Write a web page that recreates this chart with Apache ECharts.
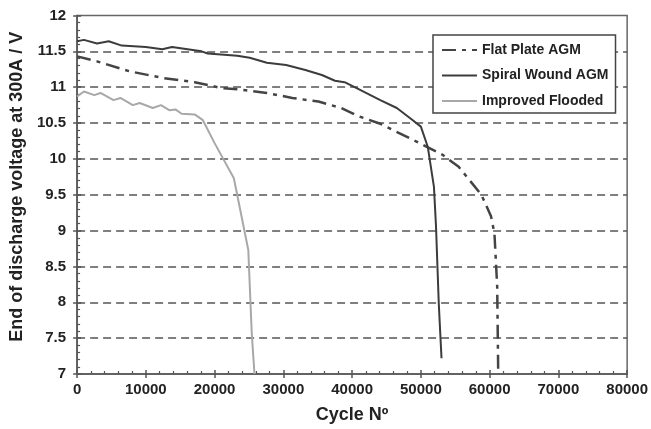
<!DOCTYPE html>
<html>
<head>
<meta charset="utf-8">
<script src="https://cdn.jsdelivr.net/npm/echarts@6/dist/echarts.min.js"></script>
<style>
html,body{margin:0;padding:0;background:#fff;}
#chart{width:651px;height:429px;}
</style>
</head>
<body>
<div id="chart"></div>
<script>
// ---- data ----
const xTicks = [0, 10000, 20000, 30000, 40000, 50000, 60000, 70000, 80000];
const yTicks = [7, 7.5, 8, 8.5, 9, 9.5, 10, 10.5, 11, 11.5, 12];
const seriesNames = ['Flat Plate AGM', 'Spiral Wound AGM', 'Improved Flooded'];

const flatX = [0, 2900, 7700, 12400, 17100, 20900, 23300, 27600, 31300, 35100, 38400, 40800, 44100, 49800, 53100, 55500, 58800, 60200, 60700, 61100, 61250];
const flatY = [11.43, 11.36, 11.22, 11.13, 11.07, 10.99, 10.97, 10.92, 10.85, 10.80, 10.71, 10.60, 10.49, 10.22, 10.06, 9.89, 9.50, 9.20, 8.96, 8.22, 7.0];

const spiralX = [0, 1000, 2900, 4600, 6500, 10000, 12400, 13800, 18100, 19000, 23300, 25100, 27600, 30400, 33200, 35600, 37500, 38900, 40800, 44100, 46500, 48400, 50000, 51000, 51900, 52200, 52600, 53000];
const spiralY = [11.64, 11.66, 11.61, 11.64, 11.58, 11.56, 11.53, 11.56, 11.50, 11.47, 11.44, 11.41, 11.34, 11.31, 11.24, 11.17, 11.09, 11.07, 10.98, 10.82, 10.71, 10.57, 10.45, 10.17, 9.61, 9.06, 7.99, 7.22];

const floodX = [0, 1000, 2500, 3400, 5300, 6300, 8100, 9100, 11000, 12200, 13400, 14300, 15200, 17100, 18300, 20000, 22800, 24900, 25400, 25800];
const floodY = [10.87, 10.94, 10.89, 10.92, 10.82, 10.85, 10.75, 10.78, 10.71, 10.75, 10.68, 10.69, 10.63, 10.62, 10.54, 10.22, 9.73, 8.73, 7.57, 7.0];

// ---- chart ----
const zip = (xs, ys) => xs.map((x, i) => [x, ys[i]]);
const FONT = "'Liberation Sans', Arial, sans-serif";
const TXT = '#222';
const AX = '#555';

const chart = echarts.init(document.getElementById('chart'), null, {renderer: 'canvas'});

const xBase = {
  type: 'value', min: xTicks[0], max: xTicks[xTicks.length - 1], interval: 10000,
  gridIndex: 0, position: 'bottom'
};
const yBase = {
  type: 'value', min: yTicks[0], max: yTicks[yTicks.length - 1], interval: 0.5,
  gridIndex: 0, position: 'left'
};

chart.setOption({
  animation: false,
  backgroundColor: '#fff',
  textStyle: {fontFamily: FONT},
  grid: {
    left: 73, right: 15, top: 15.5, bottom: 55,
    show: true, borderColor: '#666', borderWidth: 1.5, backgroundColor: 'transparent'
  },
  legend: {
    data: seriesNames,
    orient: 'vertical',
    left: 433, top: 35,
    itemWidth: 35, itemHeight: 14, itemGap: 11.5,
    padding: [8, 7, 5, 8],
    borderColor: '#444', borderWidth: 1.5, backgroundColor: '#fff',
    itemStyle: {opacity: 0},
    textStyle: {fontFamily: FONT, fontWeight: 'bold', fontSize: 14, color: TXT}
  },
  xAxis: [
    Object.assign({}, xBase, {
      name: 'Cycle Nº', nameLocation: 'middle', nameGap: 32,
      nameTextStyle: {fontFamily: FONT, fontWeight: 'bold', fontSize: 18, color: TXT},
      axisLine: {show: true, lineStyle: {color: AX, width: 1.5}},
      axisTick: {show: true, inside: true, length: 4, lineStyle: {color: AX, width: 1.5}},
      minorTick: {show: true, splitNumber: 5, length: 3, lineStyle: {color: AX, width: 1.2}},
      axisLabel: {fontFamily: FONT, fontWeight: 'bold', fontSize: 15, color: TXT, margin: 8,
        formatter: v => String(v)},
      splitLine: {show: false}
    }),
    Object.assign({}, xBase, {
      axisLine: {show: false},
      axisTick: {show: true, inside: false, length: 4, lineStyle: {color: AX, width: 1.5}},
      axisLabel: {show: false},
      splitLine: {show: false}
    })
  ],
  yAxis: [
    Object.assign({}, yBase, {
      name: 'End of discharge voltage at 300A / V', nameLocation: 'middle', nameGap: 42,
      nameTextStyle: {fontFamily: FONT, fontWeight: 'bold', fontSize: 18, color: TXT, padding: [0, 0, 0, 16]},
      axisLine: {show: true, lineStyle: {color: AX, width: 1.5}},
      axisTick: {show: true, inside: true, length: 4, lineStyle: {color: AX, width: 1.5}},
      minorTick: {show: true, splitNumber: 5, length: 3, lineStyle: {color: AX, width: 1.2}},
      axisLabel: {fontFamily: FONT, fontWeight: 'bold', fontSize: 15, color: TXT, margin: 11,
        formatter: v => String(v)},
      splitLine: {show: true, showMinLine: false, showMaxLine: false,
        lineStyle: {color: '#555', width: 1.5, type: [8, 5]}}
    }),
    Object.assign({}, yBase, {
      axisLine: {show: false},
      axisTick: {show: true, inside: false, length: 4, lineStyle: {color: AX, width: 1.5}},
      axisLabel: {show: false},
      splitLine: {show: false}
    })
  ],
  series: [
    {
      name: seriesNames[0], type: 'line', xAxisIndex: 0, yAxisIndex: 0,
      data: zip(flatX, flatY), symbol: 'none', smooth: false, z: 3,
      lineStyle: {color: '#444', width: 2.5, type: [14, 6, 4, 6]},
      itemStyle: {color: '#444'}
    },
    {
      name: seriesNames[1], type: 'line', xAxisIndex: 0, yAxisIndex: 0,
      data: zip(spiralX, spiralY), symbol: 'none', smooth: false, z: 4,
      lineStyle: {color: '#3c3c3c', width: 2},
      itemStyle: {color: '#3c3c3c'}
    },
    {
      name: seriesNames[2], type: 'line', xAxisIndex: 0, yAxisIndex: 0,
      data: zip(floodX, floodY), symbol: 'none', smooth: false, z: 4,
      lineStyle: {color: '#a8a8a8', width: 2},
      itemStyle: {color: '#a8a8a8'}
    }
  ]
});
</script>
</body>
</html>
